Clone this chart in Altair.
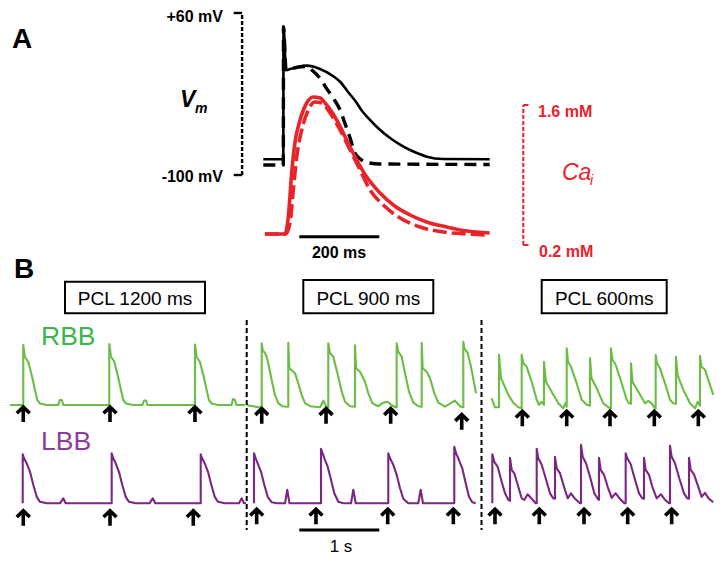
import altair as alt
import pandas as pd

# ---------------- Panel A : single beat (time in ms, Vm in mV, Ca in mM) ----------------
vm_ctrl_t = [-50, 0, 0.5, 7, 17, 32, 58, 92, 124, 142, 162, 182, 197, 212, 234, 254, 274, 294, 317, 337, 359, 399, 516]
vm_ctrl_v = [-84.5, -84.5, 46.5, 3.7, 4.7, 6.2, 8.0, 4.7, -2.2, -7.9, -18.0, -27.9, -36.8, -43.7, -52.6, -59.5,
             -65.4, -70.4, -75.3, -78.8, -81.9, -84.2, -84.5]
vm_mod_t = [-50, 0, 0.5, 7, 32, 58, 71, 92, 108, 125, 142, 154, 167, 179, 196, 208, 242, 516]
vm_mod_v = [-90.1, -90.1, 46.5, 3.7, 6.2, 7.2, 3.7, -4.5, -14.4, -24.2, -35.8, -48.9, -63.5, -78.3, -85.2, -87.5, -89.1, -89.6]
ca_ctrl_t = [-46, 4, 12.5, 21, 29, 42, 58.5, 75, 92, 108.5, 133.5, 158.5, 183.5, 208.5, 242, 275, 317, 358.5, 408.5, 458.5, 516]
ca_ctrl = [0.31, 0.31, 0.48, 0.92, 1.22, 1.45, 1.62, 1.68, 1.67, 1.60, 1.45, 1.25, 1.05, 0.88, 0.72, 0.60, 0.50, 0.43, 0.38, 0.34, 0.32]
ca_mod_t = [-46, 6, 16.75, 25, 33.5, 46, 62.5, 79, 96, 117, 142, 167, 192, 217, 250, 292, 342, 400, 458, 516]
ca_mod = [0.31, 0.31, 0.42, 0.75, 1.08, 1.35, 1.55, 1.63, 1.62, 1.52, 1.35, 1.15, 0.95, 0.75, 0.60, 0.47, 0.38, 0.33, 0.31, 0.30]

# ---------------- Panel B : pacing traces (time in ms from trace start, V in mV) ----------------
rbb_1200_t = [0, 166, 166, 187, 228, 271, 312, 341, 375, 458, 603, 622, 647, 666,
              1241, 1241, 1262, 1303, 1346, 1387, 1416, 1450, 1533, 1656, 1675, 1700, 1719,
              2312, 2312, 2333, 2374, 2417, 2458, 2487, 2521, 2604, 2769, 2788, 2812, 2831, 2937]
rbb_1200_v = [-85, -85, 35, 11, 1, -25, -55, -75, -82, -85, -85, -75, -75, -85,
              -85, 37, 12, 2, -25, -55, -75, -82, -85, -85, -76, -76, -85,
              -85, 36, 11, 1, -25, -55, -75, -82, -85, -85, -73, -75, -85, -85]
lbb_1200_t = [159, 159, 175, 209, 250, 291, 334, 375, 459, 625, 666, 696,
              1271, 1271, 1287, 1321, 1362, 1403, 1446, 1487, 1571, 1746, 1784, 1816,
              2384, 2384, 2400, 2434, 2475, 2516, 2559, 2600, 2684, 2862, 2896, 2925, 2950]
lbb_1200_v = [-85, 13, 5, -5, -22, -48, -72, -82, -85, -85, -75, -85,
              -85, 15, 6, -5, -22, -48, -72, -82, -85, -85, -75, -85,
              -85, 13, 5, -5, -22, -48, -72, -82, -85, -85, -75, -85, -84]
rbb_900_t = [0, 141, 184, 184, 196, 225, 246, 275, 309, 350, 391, 441, 496,
             516, 516, 529, 559, 600, 641, 684, 725, 788, 913, 954, 996,
             1016, 1016, 1038, 1079, 1141, 1184, 1225, 1288, 1341,
             1350, 1350, 1363, 1413, 1475, 1516, 1566, 1641, 1704, 1759, 1809, 1859,
             1871, 1871, 1891, 1934, 1975, 2025, 2079, 2141, 2175,
             2184, 2184, 2196, 2246, 2288, 2341, 2391, 2475, 2600, 2663, 2691,
             2704, 2704, 2716, 2759, 2800, 2863]
rbb_900_v = [-82, -86, -86, 42, 28, 22, 15, -5, -32, -62, -78, -84, -85,
             -85, 43, -8, -12, -18, -38, -62, -78, -84, -86, -73, -86,
             -86, 42, 22, 15, -25, -55, -75, -84, -85,
             -85, 38, -8, -15, -35, -58, -78, -84, -77, -75, -82, -86,
             -86, 42, 25, 15, -18, -55, -77, -84, -85,
             -85, 43, -8, -15, -28, -58, -77, -85, -73, -84, -86,
             -86, 45, 32, 22, -5, -58]
lbb_900_t = [87.5, 87.5, 109, 141, 175, 216, 259, 309, 371, 475, 504, 531,
             925, 925, 946, 975, 1009, 1050, 1091, 1141, 1204, 1300, 1329, 1359,
             1766, 1766, 1787.5, 1829, 1871, 1912.5, 1954, 2016, 2141, 2171, 2200,
             2591, 2591, 2612.5, 2641, 2691, 2734, 2775, 2816, 2859]
lbb_900_v = [-85, 15, 5, -8, -22, -48, -72, -83, -85, -85, -58, -85,
             -85, 24, 15, 2, -12, -38, -65, -82, -85, -85, -58, -85,
             -85, 15, 5, -8, -28, -55, -76, -85, -85, -58, -85,
             -85, 28, 15, 5, -15, -45, -72, -83, -85]
rbb_600_t = [21, 62.5, 112.5, 112.5, 137.5, 166, 229, 291, 354,
             396, 396, 416, 459, 521, 584, 612.5, 646,
             675, 675, 700, 771, 854, 916, 950,
             959, 959, 975, 1012.5, 1084, 1146, 1209,
             1250, 1250, 1269, 1334, 1416, 1500,
             1512.5, 1512.5, 1531, 1571, 1646, 1709, 1737.5,
             1762.5, 1762.5, 1781, 1854, 1937.5, 1979, 2021, 2062.5,
             2071, 2071, 2087.5, 2125, 2187.5, 2250, 2291,
             2325, 2325, 2344, 2416, 2500, 2562.5, 2596,
             2625, 2625, 2644, 2687.5, 2791]
rbb_600_v = [-65, -83, -83, 22, -25, -35, -58, -74, -83,
             -85, 22, 5, -2, -32, -68, -78, -72,
             -78, 8, -32, -52, -75, -85, -73,
             -82, 35, 8, -2, -35, -68, -78,
             -80, 15, -25, -45, -75, -85,
             -85, 35, 12, 2, -35, -68, -75,
             -76, 5, -32, -52, -75, -70, -75, -85,
             -85, 22, 5, -5, -35, -68, -75,
             -76, 18, -18, -48, -75, -85, -72,
             -80, 20, -2, -8, -58]
lbb_600_t = [29, 29, 54, 96, 146, 187.5, 229,
             250, 250, 271, 304, 346, 396, 429, 471, 521, 571,
             584, 584, 604, 646, 696, 750, 791,
             812.5, 812.5, 834, 875, 925, 971, 1012.5, 1062.5, 1125,
             1137.5, 1137.5, 1159, 1200, 1250, 1304, 1346,
             1362.5, 1362.5, 1384, 1425, 1471, 1521, 1571, 1625, 1679,
             1696, 1696, 1716, 1759, 1812.5, 1862.5, 1904,
             1925, 1925, 1946, 1987.5, 2029, 2084, 2137.5, 2187.5, 2237.5,
             2250, 2250, 2271, 2312.5, 2366, 2425, 2466,
             2487.5, 2487.5, 2509, 2550, 2604, 2646, 2687.5, 2737.5, 2791]
lbb_600_v = [-85, 13, -2, -12, -42, -65, -78,
             -80, 6, -18, -25, -48, -75, -78, -67, -76, -85,
             -85, 24, 5, -8, -35, -65, -75,
             -76, 8, -15, -25, -52, -75, -65, -76, -85,
             -85, 32, 8, -5, -32, -65, -76,
             -78, 6, -18, -28, -52, -74, -65, -76, -85,
             -85, 15, 5, -7, -38, -65, -75,
             -76, 6, -18, -28, -52, -75, -67, -78, -85,
             -85, 30, 8, -5, -35, -65, -75,
             -76, 6, -18, -27, -52, -72, -64, -76, -83]

# pacing stimuli (ms) marked by arrows
stim_rbb_1200 = [166, 1250, 2312]
stim_lbb_1200 = [166, 1250, 2291]
stim_rbb_900 = [184, 988, 1796, 2684]
stim_lbb_900 = [121, 862, 1759, 2579]
stim_rbb_600 = [404, 959, 1500, 2054, 2604]
stim_lbb_600 = [62.5, 616, 1175, 1721, 2271]

panel_titles = ["PCL 1200 ms", "PCL 900 ms", "PCL 600ms"]

# ---------------- layout ----------------
FIG_X = (8, 715)
FIG_Y = (8, 554)
BLACK, RED = "#000000", "#e8232a"
GREEN_L, GREEN_T = "#6cbd45", "#3ab54a"
PURP_L, PURP_T = "#7b2682", "#8b3c9e"
FONT = "Liberation Sans"


def xs(origin_px, px_per_unit):
    return alt.Scale(domain=[(FIG_X[0] - origin_px) / px_per_unit, (FIG_X[1] - origin_px) / px_per_unit],
                     nice=False, zero=False)


def ys(anchor_px, anchor_val, px_per_unit):
    return alt.Scale(domain=[anchor_val - (FIG_Y[1] - anchor_px) / px_per_unit,
                             anchor_val + (anchor_px - FIG_Y[0]) / px_per_unit],
                     nice=False, zero=False)


figx = alt.Scale(domain=list(FIG_X), nice=False, zero=False)
figy = alt.Scale(domain=list(FIG_Y), nice=False, zero=False, reverse=True)


def line_layer(t, v, sx, sy, color, width, dash=None, interp="linear"):
    df = pd.DataFrame({"t": t, "v": v})
    df["i"] = range(len(df))
    kw = dict(color=color, strokeWidth=width, interpolate=interp, strokeJoin="round")
    if dash:
        kw["strokeDash"] = dash
    return alt.Chart(df).mark_line(**kw).encode(
        x=alt.X("t:Q", scale=sx, axis=None),
        y=alt.Y("v:Q", scale=sy, axis=None),
        order="i:Q")


def rule_layer(rows, sx, sy, color, width, dash=None):
    df = pd.DataFrame(rows, columns=["t", "t2", "v", "v2"])
    kw = dict(color=color, strokeWidth=width)
    if dash:
        kw["strokeDash"] = dash
    return alt.Chart(df).mark_rule(**kw).encode(
        x=alt.X("t:Q", scale=sx, axis=None), x2="t2:Q",
        y=alt.Y("v:Q", scale=sy, axis=None), y2="v2:Q")


ARROW = "M0,1L0,-0.88M-0.8,-0.1L0,-0.88L0.8,-0.1"


def arrow_layer(t, v, sx, sy):
    df = pd.DataFrame({"t": t, "v": v})
    return alt.Chart(df).mark_point(shape=ARROW, size=260, filled=False, color=BLACK, strokeWidth=3.6,
                                    opacity=1, strokeJoin="miter", strokeCap="butt").encode(
        x=alt.X("t:Q", scale=sx, axis=None),
        y=alt.Y("v:Q", scale=sy, axis=None))


def text_layer(rows, **kw):
    df = pd.DataFrame(rows, columns=["x", "y", "label"])
    base = dict(font=FONT, baseline="alphabetic")
    base.update(kw)
    return alt.Chart(df).mark_text(**base).encode(
        x=alt.X("x:Q", scale=figx, axis=None),
        y=alt.Y("y:Q", scale=figy, axis=None),
        text="label:N")


layers = []

# ---- Panel A ----
ax = xs(283.3, 0.4)
ay_vm = ys(13, 60, 1.0125)
ay_ca = ys(105, 1.6, 100)
layers.append(line_layer(vm_mod_t, vm_mod_v, ax, ay_vm, BLACK, 3.4, dash=[12, 7], interp="monotone"))
layers.append(line_layer(vm_ctrl_t, vm_ctrl_v, ax, ay_vm, BLACK, 2.6, interp="monotone"))
layers.append(line_layer(ca_ctrl_t, ca_ctrl, ax, ay_ca, RED, 3.6, interp="monotone"))
layers.append(line_layer(ca_mod_t, ca_mod, ax, ay_ca, RED, 3.6, dash=[14, 5], interp="monotone"))
# scale bars of panel A
layers.append(rule_layer([[-103, -103, -100, 60]], ax, ay_vm, BLACK, 2.4, dash=[4, 2]))
layers.append(rule_layer([[-124, -103, 60, 60], [-124, -103, -100, -100]], ax, ay_vm, BLACK, 2.4))
layers.append(rule_layer([[40, 240, -160.9, -160.9]], ax, ay_vm, BLACK, 3))
layers.append(rule_layer([[600, 600, 0.2, 1.6]], ax, ay_ca, RED, 2, dash=[4, 2]))
layers.append(rule_layer([[600, 613, 1.6, 1.6], [600, 613, 0.2, 0.2]], ax, ay_ca, RED, 2))

# ---- Panel B ----
KX, KY = 0.08, 0.5
origins = [10, 247, 490]
green_base = [405, 406.7, 408.3]
purple_base = [503.3, 503.3, 503.3]
rbb = [(rbb_1200_t, rbb_1200_v), (rbb_900_t, rbb_900_v), (rbb_600_t, rbb_600_v)]
lbb = [(lbb_1200_t, lbb_1200_v), (lbb_900_t, lbb_900_v), (lbb_600_t, lbb_600_v)]
stim_r = [stim_rbb_1200, stim_rbb_900, stim_rbb_600]
stim_l = [stim_lbb_1200, stim_lbb_900, stim_lbb_600]
arrow_r_level = [[-103] * 3, [-103, -103, -103, -115], [-105] * 5]
arrow_l_level = [[-114] * 3, [-111] * 4, [-111] * 5]

for k in range(3):
    bx = xs(origins[k], KX)
    gy = ys(green_base[k], -85, KY)
    py = ys(purple_base[k], -85, KY)
    layers.append(line_layer(rbb[k][0], rbb[k][1], bx, gy, GREEN_L, 2.1))
    layers.append(line_layer(lbb[k][0], lbb[k][1], bx, py, PURP_L, 2.1))
    layers.append(arrow_layer(stim_r[k], arrow_r_level[k], bx, gy))
    layers.append(arrow_layer(stim_l[k], arrow_l_level[k], bx, py))
    if k == 1:
        layers.append(rule_layer([[654, 1654, -138.4, -138.4]], bx, py, BLACK, 3))

# separators and title boxes
sep = pd.DataFrame({"x": [246.7, 481.5], "y": [320, 320], "y2": [530, 530]})
layers.append(alt.Chart(sep).mark_rule(color=BLACK, strokeWidth=2, strokeDash=[5, 3]).encode(
    x=alt.X("x:Q", scale=figx, axis=None), y=alt.Y("y:Q", scale=figy, axis=None), y2="y2:Q"))
boxes = pd.DataFrame({"x": [65, 303.3, 541.7], "x2": [205, 433.3, 666.7],
                      "y": [281.7, 280, 280], "y2": [313.3, 313.3, 313.3]})
layers.append(alt.Chart(boxes).mark_rect(fill="white", stroke=BLACK, strokeWidth=2).encode(
    x=alt.X("x:Q", scale=figx, axis=None), x2="x2:Q",
    y=alt.Y("y:Q", scale=figy, axis=None), y2="y2:Q"))

# ---- texts ----
layers.append(text_layer([[12, 48, "A"], [14, 278, "B"]], fontSize=28, fontWeight="bold", color=BLACK, align="left"))
layers.append(text_layer([[223, 22, "+60 mV"], [223, 182, "-100 mV"]], fontSize=16, fontWeight="bold",
                         color=BLACK, align="right"))
layers.append(text_layer([[180, 106.5, "V"]], fontSize=23, fontWeight="bold", fontStyle="italic",
                         color=BLACK, align="left"))
layers.append(text_layer([[195, 112.5, "m"]], fontSize=14, fontWeight="bold", fontStyle="italic",
                         color=BLACK, align="left"))
layers.append(text_layer([[339, 258, "200 ms"]], fontSize=16, fontWeight="bold", color=BLACK, align="center"))
layers.append(text_layer([[538, 116.5, "1.6 mM"], [539, 257, "0.2 mM"]], fontSize=16, fontWeight="bold",
                         color=RED, align="left"))
layers.append(text_layer([[562, 180, "Ca"]], fontSize=23, fontStyle="italic", color=RED, align="left"))
layers.append(text_layer([[590, 185, "i"]], fontSize=14, fontStyle="italic", color=RED, align="left"))
layers.append(text_layer([[135, 305, panel_titles[0]], [368.3, 305, panel_titles[1]], [604.2, 305, panel_titles[2]]],
                         fontSize=19, color=BLACK, align="center"))
layers.append(text_layer([[41, 345, "RBB"]], fontSize=26.5, color=GREEN_T, align="left"))
layers.append(text_layer([[41, 450, "LBB"]], fontSize=26.5, color=PURP_T, align="left"))
layers.append(text_layer([[341, 551.5, "1 s"]], fontSize=17, color=BLACK, align="center"))

chart = alt.layer(*layers).resolve_scale(x="independent", y="independent").properties(
    width=FIG_X[1] - FIG_X[0], height=FIG_Y[1] - FIG_Y[0], padding=0,
    autosize=alt.AutoSizeParams(type="none")
).configure_view(stroke=None)

chart.save("out.html", embed_options={"renderer": "svg", "actions": False})
